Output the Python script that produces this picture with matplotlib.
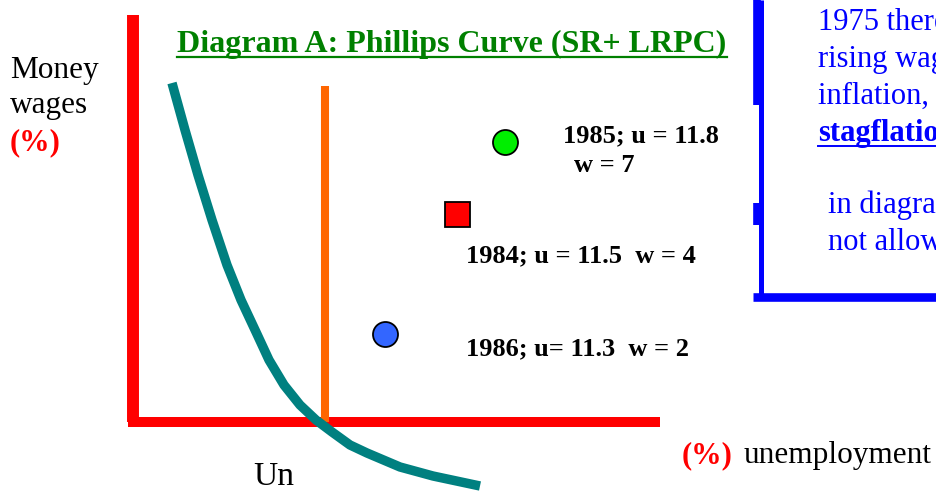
import numpy as np
import matplotlib.pyplot as plt

plt.rcParams['font.family'] = ['Liberation Serif', 'DejaVu Serif']

# diagram coordinates (picture space, y grows downward)
curve_x = [172, 185, 198, 212, 227, 241, 256, 269, 284, 300, 316, 332,
           350, 367, 400, 433, 480]
curve_y = [83, 130, 175, 220, 265, 300, 332, 360, 385, 405, 420, 432,
           445, 453, 467, 476, 486]

years = ['1985', '1984', '1986']
u_vals = ['11.8', '11.5', '11.3']
w_vals = ['7', '4', '2']
pt_x = [505, 457, 385]
pt_y = [142, 214, 334]
pt_marker = ['o', 's', 'o']
pt_color = ['#00ee00', '#ff0000', '#3366ff']

box_lines = ['1975 there', 'rising wages', 'inflation, i.e.', 'stagflation', '',
             'in diagram', 'not allowed']

fig = plt.figure(figsize=(9.36, 4.91), dpi=100)
ax = fig.add_axes([0, 0, 1, 1])
ax.set_xlim(0, 936)
ax.set_ylim(491, 0)
ax.axis('off')

# axes of the diagram
ax.plot([133, 133], [15, 422], color='#ff0000', lw=8.6, solid_capstyle='butt')
ax.plot([128, 660], [422, 422], color='#ff0000', lw=7.2, solid_capstyle='butt')
# LRPC
ax.plot([325, 325], [86, 422], color='#ff6600', lw=5.8, solid_capstyle='butt')
# SRPC
ax.plot(curve_x, curve_y, color='#008080', lw=6.8, solid_capstyle='butt',
        solid_joinstyle='round')

for x, y, m, c in zip(pt_x, pt_y, pt_marker, pt_color):
    ax.plot(x, y, marker=m, ms=18, mfc=c, mec='black', mew=1.3, ls='none')

fs = 19
ax.text(563, 142, f'{years[0]}; u = {u_vals[0]}', fontsize=fs, weight='bold')
ax.text(574, 172, f'w = {w_vals[0]}', fontsize=fs, weight='bold')
ax.text(466, 262, f'{years[1]}; u = {u_vals[1]}  w = {w_vals[1]}', fontsize=fs, weight='bold')
ax.text(466, 355, f'{years[2]}; u= {u_vals[2]}  w = {w_vals[2]}', fontsize=fs, weight='bold')

title = ax.text(452, 52, 'Diagram A: Phillips Curve (SR+ LRPC)', fontsize=23,
                weight='bold', color='#008000', ha='center')

ax.text(10, 78, 'Money', fontsize=22.5)
ax.text(10, 113, 'wages', fontsize=22.5)
ax.text(10, 150, '(%)', fontsize=22, weight='bold', color='#ff0000')
ax.text(253, 485, 'Un', fontsize=24)
ax.text(682, 463, '(%)', fontsize=22, weight='bold', color='#ff0000')
ax.text(744, 463, 'unemployment', fontsize=22.5)

# blue text box
blue = '#0000ff'
ax.plot([761, 761], [0, 297], color=blue, lw=3.6, solid_capstyle='butt')
ax.plot([757, 757], [0, 105], color=blue, lw=5.5, solid_capstyle='butt')
ax.plot([757, 757], [203, 225], color=blue, lw=5.5, solid_capstyle='butt')
ax.plot([753, 936], [297, 297], color=blue, lw=6.2, solid_capstyle='butt')

stag = None
for i, line in enumerate(box_lines):
    x0 = 818 if i < 4 else 828
    y0 = 30 + 37 * i if i < 4 else 213 + 37 * (i - 5)
    t = ax.text(x0, y0, line, fontsize=22, color=blue,
                weight='bold' if line == 'stagflation' else 'normal')
    if line == 'stagflation':
        stag = t

# underlines from rendered text extents
fig.canvas.draw()
inv = ax.transData.inverted()
for t, c, dy, lw in [(title, '#008000', 5, 1.6), (stag, blue, 5, 1.4)]:
    bb = t.get_window_extent()
    (xa, _), (xb, _) = inv.transform([(bb.x0, bb.y0), (bb.x1, bb.y0)])
    yb = t.get_position()[1] + dy
    ax.plot([xa, xb], [yb, yb], color=c, lw=lw)

fig.savefig('out.png', dpi=100)
